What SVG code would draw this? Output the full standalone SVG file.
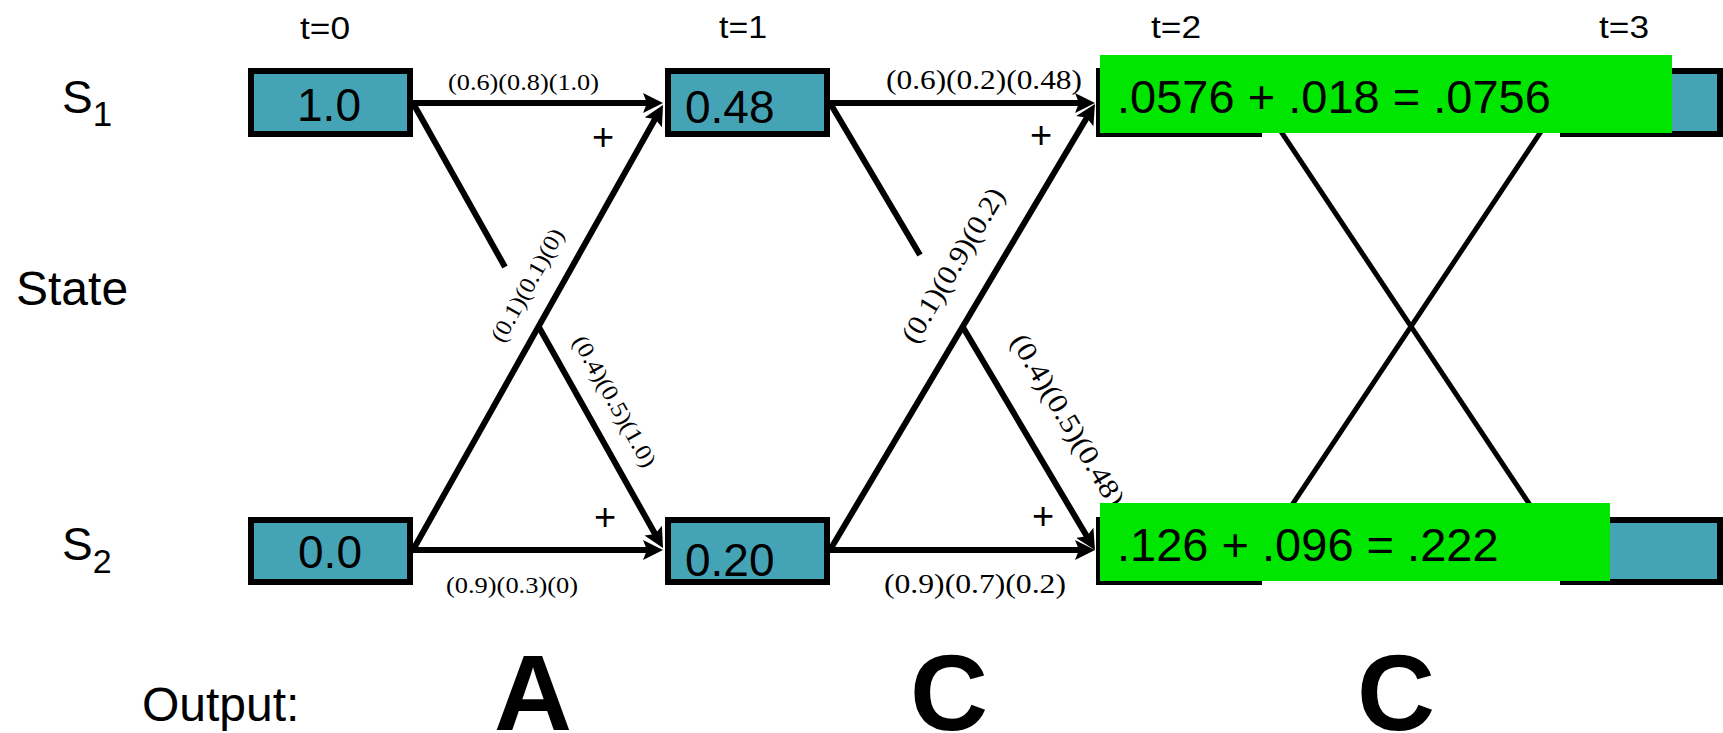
<svg xmlns="http://www.w3.org/2000/svg" width="1723" height="733" viewBox="0 0 1723 733">
<style>
.box{fill:#45A3B6;stroke:#000;stroke-width:6}
.hl{fill:#00E600}
.sans{font-family:"Liberation Sans",Arial,sans-serif;fill:#000}
.serif{font-family:"Liberation Serif","Times New Roman",serif;fill:#000}
.val{font-size:46px}
.big{font-size:47px}
.tl{font-size:32px;text-anchor:middle}
.plus{font-size:38px;text-anchor:middle}
.out{font-size:108px;font-weight:bold;text-anchor:middle}
.edge{stroke:#000;stroke-width:6;fill:none}
.thin{stroke:#000;stroke-width:5;fill:none}
</style>
<defs>
<marker id="ah" markerUnits="userSpaceOnUse" markerWidth="20" markerHeight="20" viewBox="0 0 20 20" refX="11" refY="10" orient="auto">
<path d="M0,0 L20,10 L0,20 L4,10 z" fill="#000"/>
</marker>
</defs>

<g id="labels">
<text class="sans tl" x="325" y="39" textLength="50" lengthAdjust="spacingAndGlyphs">t=0</text>
<text class="sans tl" x="743" y="38" textLength="48" lengthAdjust="spacingAndGlyphs">t=1</text>
<text class="sans tl" x="1176" y="38" textLength="50" lengthAdjust="spacingAndGlyphs">t=2</text>
<text class="sans tl" x="1624" y="38" textLength="50" lengthAdjust="spacingAndGlyphs">t=3</text>
<text class="sans" x="62" y="113" font-size="46">S<tspan font-size="35" dy="13">1</tspan></text>
<text class="sans" x="62" y="560" font-size="46">S<tspan font-size="34" dy="13">2</tspan></text>
<text class="sans" x="16" y="305" font-size="48">State</text>
<text class="sans" x="142" y="721" font-size="48">Output:</text>
<text class="sans out" x="533" y="730">A</text>
<text class="sans out" x="949" y="730">C</text>
<text class="sans out" x="1396" y="730">C</text>
</g>

<g id="connectors">
<line class="thin" x1="1262" y1="103" x2="1560" y2="550"/>
<line class="thin" x1="1262" y1="550" x2="1560" y2="103"/>
<line class="edge" x1="413" y1="103" x2="654" y2="103" marker-end="url(#ah)"/>
<line class="edge" x1="413" y1="550" x2="654" y2="550" marker-end="url(#ah)"/>
<line class="edge" x1="830" y1="103" x2="1086" y2="103" marker-end="url(#ah)"/>
<line class="edge" x1="830" y1="550" x2="1086" y2="550" marker-end="url(#ah)"/>
<line class="edge" x1="413" y1="103" x2="505" y2="267"/>
<line class="edge" x1="538.3" y1="326" x2="658.6" y2="540.2" marker-end="url(#ah)"/>
<line class="edge" x1="413" y1="550" x2="658.6" y2="112.8" marker-end="url(#ah)"/>
<line class="edge" x1="830" y1="103" x2="920" y2="255"/>
<line class="edge" x1="962.5" y1="326.5" x2="1090.4" y2="542.3" marker-end="url(#ah)"/>
<line class="edge" x1="830" y1="550" x2="1090.4" y2="111.7" marker-end="url(#ah)"/>
<text class="serif" x="448" y="90" font-size="24" textLength="151" lengthAdjust="spacingAndGlyphs">(0.6)(0.8)(1.0)</text>
<text class="serif" x="886" y="89" font-size="27" textLength="196" lengthAdjust="spacingAndGlyphs">(0.6)(0.2)(0.48)</text>
<text class="serif" x="446" y="593" font-size="24" textLength="132" lengthAdjust="spacingAndGlyphs">(0.9)(0.3)(0)</text>
<text class="serif" x="884" y="593" font-size="28" textLength="182" lengthAdjust="spacingAndGlyphs">(0.9)(0.7)(0.2)</text>
<text class="serif" x="534" y="289" font-size="23" text-anchor="middle" textLength="126" lengthAdjust="spacingAndGlyphs" transform="rotate(-60.8 534 289)">(0.1)(0.1)(0)</text>
<text class="serif" x="608" y="405" font-size="23" text-anchor="middle" textLength="147" lengthAdjust="spacingAndGlyphs" transform="rotate(60.7 608 405)">(0.4)(0.5)(1.0)</text>
<text class="serif" x="961" y="270" font-size="28" text-anchor="middle" textLength="175" lengthAdjust="spacingAndGlyphs" transform="rotate(-59.2 961 270)">(0.1)(0.9)(0.2)</text>
<text class="serif" x="1060" y="425" font-size="28" text-anchor="middle" textLength="196" lengthAdjust="spacingAndGlyphs" transform="rotate(59.3 1060 425)">(0.4)(0.5)(0.48)</text>
<text class="sans plus" x="603" y="150">+</text>
<text class="sans plus" x="1041" y="148">+</text>
<text class="sans plus" x="605" y="530">+</text>
<text class="sans plus" x="1043" y="529">+</text>
</g>

<g id="s1t0"><rect class="box" x="251" y="71" width="159" height="63"/><text class="sans val" x="329" y="121" text-anchor="middle">1.0</text></g>
<g id="s2t0"><rect class="box" x="251" y="520" width="159" height="62"/><text class="sans val" x="330" y="568" text-anchor="middle">0.0</text></g>
<g id="s1t1"><rect class="box" x="668" y="71" width="159" height="63"/><text class="sans val" x="685" y="123">0.48</text></g>
<g id="s2t1"><rect class="box" x="668" y="520" width="159" height="62"/><text class="sans val" x="685" y="576">0.20</text></g>
<g id="s1t2"><rect class="box" x="1099" y="71" width="160" height="63"/></g>
<g id="s2t2"><rect class="box" x="1099" y="520" width="160" height="62"/></g>
<g id="s1t3"><rect class="box" x="1563" y="71" width="157" height="63"/></g>
<g id="s2t3"><rect class="box" x="1563" y="520" width="157" height="62"/></g>
<g id="sum1"><rect class="hl" x="1100" y="55" width="572" height="78"/><text class="sans big" x="1117" y="113">.0576 + .018 = .0756</text></g>
<g id="sum2"><rect class="hl" x="1100" y="503" width="510" height="78"/><text class="sans big" x="1117" y="561">.126 + .096 = .222</text></g>
</svg>
